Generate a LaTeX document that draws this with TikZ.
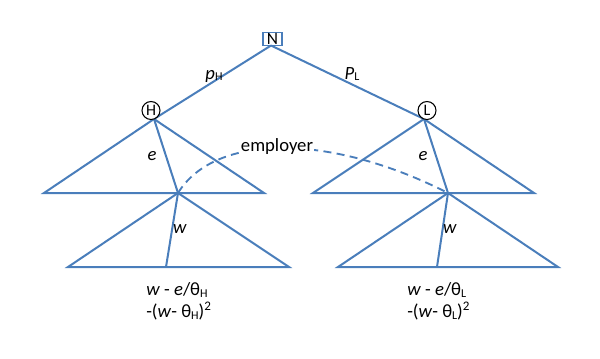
\documentclass[tikz,border=0pt]{standalone}
\usepackage{fontspec}
\setmainfont{Carlito}
\definecolor{lineblue}{RGB}{74,126,187}
\newcommand{\sbs}[1]{\raisebox{-0.2ex}{\fontsize{9}{10}\selectfont #1}}
\begin{document}
\begin{tikzpicture}[x=0.75pt,y=-0.75pt,
  edge/.style={draw=lineblue,line width=1.5pt},
  lbl/.style={font=\fontsize{14}{16}\selectfont,inner sep=0pt},
  player/.style={circle,draw=black,line width=0.8pt,minimum size=13.5pt,inner sep=0pt,font=\fontsize{12}{12}\selectfont,fill=white},
  natbox/.style={rectangle,draw=lineblue,line width=1.2pt,minimum width=14.5pt,minimum height=9.5pt,inner sep=0pt,font=\fontsize{13}{13}\selectfont}]
\useasboundingbox (0,0) rectangle (600,358);
% nodes
\node[natbox] (N) at (272.5,39) {N};
\coordinate (Nb) at (271,45.5);
\coordinate (Ha) at (154,119);
\coordinate (La) at (424,119);
\coordinate (HL) at (44,193);
\coordinate (HR) at (264,193);
\coordinate (LL) at (313,193);
\coordinate (LR) at (534,193);
\coordinate (Hw) at (178,193);
\coordinate (Lw) at (448,193);
\coordinate (HBL) at (68,267);
\coordinate (HBR) at (289,267);
\coordinate (HBw) at (166,267);
\coordinate (LBL) at (338,267);
\coordinate (LBR) at (558,267);
\coordinate (LBw) at (437,267);
% tree edges
\draw[edge] (Nb) -- (Ha);
\draw[edge] (Nb) -- (La);
\draw[edge,line join=miter] (HL) -- (Ha) -- (HR) -- cycle;
\draw[edge,line join=miter] (LL) -- (La) -- (LR) -- cycle;
\draw[edge] (Ha) -- (Hw);
\draw[edge] (La) -- (Lw);
\draw[edge,line join=miter] (HBL) -- (Hw) -- (HBR) -- cycle;
\draw[edge,line join=miter] (LBL) -- (Lw) -- (LBR) -- cycle;
\draw[edge] (Hw) -- (HBw);
\draw[edge] (Lw) -- (LBw);
% information set
\draw[draw=lineblue,line width=1.4pt,dash pattern=on 6pt off 4pt] (Hw) .. controls (215,133) and (330,133) .. (Lw);
\node[lbl,fill=white,inner xsep=1pt,inner ysep=1pt] (emp) at (277,147) {employer};
% player nodes
\node[player] (H) at (151,110.5) {H};
\node[player] (L) at (427,110.5) {L};
% labels
\node[lbl] (pH) at (214,76) {\textit{p}\sbs{H}};
\node[lbl] (pL) at (352,74) {\textit{P}\sbs{L}};
\node[lbl] (eH) at (152,156) {\textit{e}};
\node[lbl] (eL) at (423,156) {\textit{e}};
\node[lbl] (wH) at (180,229) {\textit{w}};
\node[lbl] (wL) at (450,229) {\textit{w}};
\node[lbl,anchor=west] (uH1) at (146,290) {\textit{w} - \textit{e}/θ\sbs{H}};
\node[lbl,anchor=west] (uH2) at (146,311) {-(\textit{w}- θ\sbs{H})\textsuperscript{2}};
\node[lbl,anchor=west] (uL1) at (407,290) {\textit{w} - \textit{e}/θ\sbs{L}};
\node[lbl,anchor=west] (uL2) at (407,311) {-(\textit{w}- θ\sbs{L})\textsuperscript{2}};
\end{tikzpicture}
\end{document}
